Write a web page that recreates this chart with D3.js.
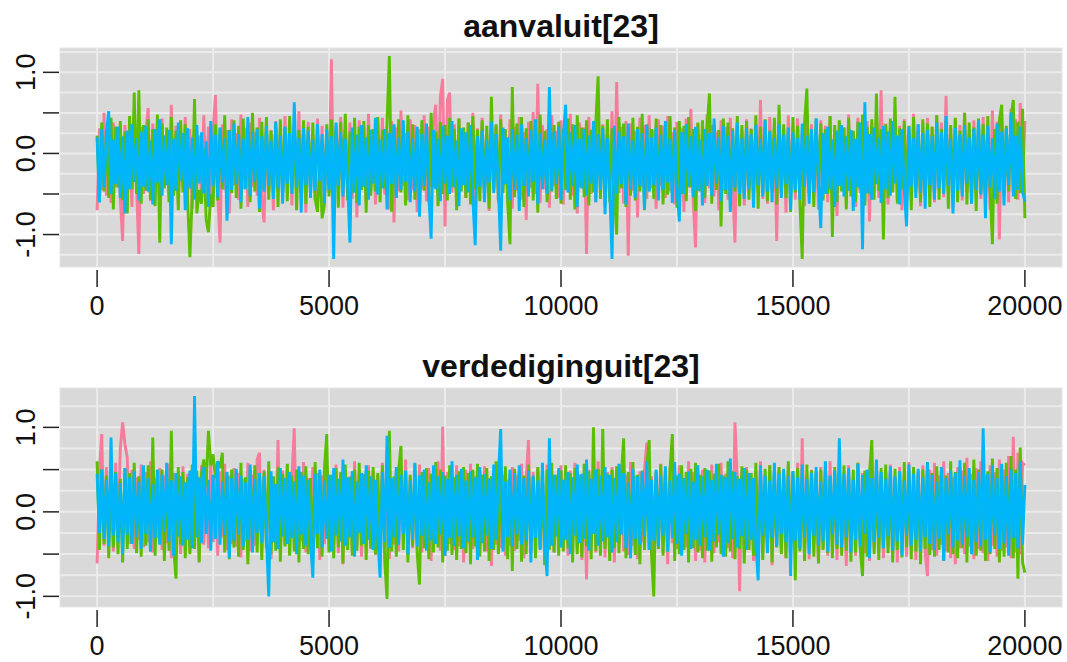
<!DOCTYPE html>
<html>
<head>
<meta charset="utf-8">
<script src="https://cdn.jsdelivr.net/npm/d3@7"></script>
<style>
body { margin: 0; background: #fff; }
text { font-family: "Liberation Sans", Arial, sans-serif; fill: #111; }
</style>
</head>
<body>
<div id="chart"></div>
<script>
var width = 1067, height = 662;

// kept draws run from iteration 0 to 20000 (one every 50 iterations)
var lastIter = 20000
var xTicks = [0, 5000, 10000, 15000, 20000]
var yTicks = [-1, -0.5, 0, 0.5, 1]
var yLabels = ["-1.0", "", "0.0", "", "1.0"]
var titles = ["aanvaluit[23]", "verdediginguit[23]"]
var chainColors = ["#f77b9a", "#5bbe00", "#00b5f8"]

// aanvaluit[23], chain 1 (pink)
var aanvalChain1 = [
  -.7, .31, -.45, .5, -.52, .27, -.61, .38, -.42, .24, -.56, -1.08, .35, -.48, .29, -.66, .41, -.4, -1.24, .33,
  -.5, .26, .56, -.59, .37, -.44, .3, -.71, .43, -.39, .25, -.53, .6, -.47, .34, -.63, .28, -.41, .45, -.55,
  .3, -.68, .39, -.43, .22, -.58, .47, -.4, .33, -.62, .27, .72, -.5, -1.1, .36, -.45, .29, -.74, .42, -.39,
  .25, -.57, .48, -.44, .31, -.66, .38, -.41, .26, -.52, .44, -.6, -.85, .35, -.47, .29, -.7, .4, -.43, .32,
  -.55, .46, -.38, .28, -.64, .37, -.49, .52, -.42, .3, -.73, .39, -.45, .24, -.58, .43, -.4, .34, -.62, .27,
  -.48, 1.16, -.53, .36, -.41, .45, -.67, .3, -.44, .38, -.56, .26, -.79, .41, -.39, .33, -.6, .49, -.46, .29,
  -.63, .37, -.42, .44, -.51, .28, -.69, .4, -.85, .32, -.47, .53, -.4, .25, -.58, .42, -.45, .35, -.72, .3,
  -.44, .47, -.59, .33, -.41, .39, .6, -.52, .7, .92, -.9, .66, .75, -.48, .36, -.62, .43, -.4, .28, -.55,
  .38, -.47, .5, -.65, .31, -.43, .44, -.58, .27, -.71, .4, -.45, .34, -.6, .48, -.39, .29, -.54, .42, -.68,
  .33, -.46, .45, -.57, .26, -.82, .39, -.42, .51, -.5, .86, -.61, .35, -.44, .3, -.67, .47, -.4, .28, -.55,
  .41, -.63, .34, -.45, .49, -.52, .27, -.74, .38, -.41, .32, -1.24, .45, -.5, .29, -.6, .43, -.47, .36, -.66,
  .3, -.44, .52, -.58, .88, -.49, .33, -.62, .4, -1.26, .37, -.46, .28, -.79, .44, -.41, .35, -.56, .47, -.43,
  .29, -.68, .42, -.4, .34, -.55, .46, -.47, .26, -.63, .39, -.5, .31, -.72, .43, -.42, .55, -.58, -1.16, .37,
  -.45, .3, -.61, .48, -.43, .35, -.53, .27, -.7, .41, -.46, .33, -.57, .44, -.4, -1.1, .38, -.52, .29, -.64,
  .42, -.47, .31, -.59, .36, -.44, .66, -.56, .28, -.62, .45, -.41, .34, -1.08, .4, -.5, .3, -.73, .47, -.45,
  .33, -.57, .43, -.4, .27, -.65, .5, -.48, .36, -.54, .29, -.69, .41, -.43, .34, -.6, .46, -.5, .3, -.77,
  .39, -.45, .32, -.58, .48, -.42, .27, -.66, .44, -.49, .35, -.61, .4, -.84, .31, -.47, .52, -.55, .78, -.5,
  .37, -.63, .29, -.44, .46, -.57, .34, -.7, .42, -.41, .3, -.59, .49, -.46, .36, -.65, .28, -.52, .44, -.4,
  .33, -.6, .47, -.45, .38, -.54, .71, -.48, .3, -.67, .43, -.42, .35, -.58, .5, -.47, .27, -.62, .41, -.5,
  .36, -.56, .45, -.43, .32, -.69, .53, -.46, .39, -1.06, .44, -.52, .3, -.6, .55, -.48, .42, -.57, .62, -.45,
  .4
]

// aanvaluit[23], chain 2 (green)
var aanvalChain2 = [
  .22, -.6, .38, -.47, .29, -.55, .44, -.69, .33, -.42, .4, -.58, .27, -.74, .46, -.44, .75, -.5, .78, -.62,
  .35, -.46, .42, -.57, .3, -.65, .48, -1.1, .37, -.43, .32, -.6, .45, -.52, .28, -.7, .41, -.48, .36, -.56,
  -1.28, -.52, .67, -.74, -.45, -.62, .05, -.81, -.97, -.5, -.66, .36, -.58, .3, -.44, .47, -.63, .29, -.49, .41,
  -.55, .34, -.68, .43, -.42, .27, -.6, .5, -.47, .32, -.72, .39, -.44, .45, -.57, .28, -.51, .37, -.66, .42,
  -.48, .31, -.59, .46, -.43, .35, -.7, .29, -.5, .41, -.62, .33, -.46, .38, -.56, -.72, -.1, -.8, -.64, .36,
  -.53, .42, -.45, .3, -.67, .39, -.41, .49, -.58, .27, -.49, .44, -.61, .33, -.45, .4, -.73, .35, -.52, .3,
  -.47, .45, -.6, .29, -.43, .38, 1.2, -.72, .34, -.55, .42, -.48, .31, -.64, .47, -.44, .36, -.57, .28, -.69,
  .41, -.46, .33, -.6, .5, -.42, .27, -.65, .39, -.5, .35, -.58, .44, -.41, .3, -.7, .43, -.47, .32, -.55,
  .38, -.63, .46, -.44, .29, -.59, .41, -.52, .34, -.68, .7, -.45, .36, -.57, .42, -.49, .3, -.61, -1.12, .82,
  -.54, .37, -.44, .45, -.66, .31, -.5, .4, -.58, .33, -.73, .48, -.43, .28, -.6, .44, -.47, .35, -.56, .39,
  -.62, .3, -.45, .43, -.57, .36, -.69, .47, -.42, .32, -.54, .41, -.64, .29, -.48, .38, .95, -.56, .34, -.46,
  .42, -.6, .31, -.5, -1.0, .45, -.43, .37, -.66, .28, -.52, .44, -.58, .33, -.47, .49, -.7, .36, -.45, .3,
  -.56, .43, -.48, .35, -.63, .27, -.51, .46, -.44, .32, -.67, .4, -.5, .34, -.59, .45, -.42, .3, -.71, .38,
  -.47, .41, -.55, .33, .74, -.62, .36, -.45, .29, -.9, .43, -.5, .38, -.6, .31, -.47, .46, -.65, .35, -.52,
  .4, -.57, .3, -.44, .47, -.68, .33, -.5, .42, -.59, .28, -.46, .44, -.63, .6, -.49, .36, -.55, .31, -.72,
  .45, -.48, .34, -.61, -1.3, .38, .8, -.52, .29, -.66, .43, -.45, .37, -.58, .3, -.5, .46, -1.03, .35, -.6,
  .41, -.47, .32, -.69, .44, -.53, .28, -.6, .39, -.45, .48, -.64, .33, -.5, .42, -.57, .74, -.46, .3, -1.06,
  .36, -.55, .43, -.48, .7, -.62, .31, -.44, .4, -.58, .34, -.7, .45, -.47, .29, -.6, .42, -.51, .37, -.66,
  .33, -.49, .47, -.57, .3, -.45, .41, -.68, .35, -.52, .44, -.6, .28, -.47, .5, -.63, .38, -.44, .32, -.71,
  .43, -.5, .36, -.58, .46, -.45, -1.12, .3, -.62, .41, .6, -.53, .34, -.47, .44, .66, -.56, .39, -.49, .55,
  -.8
]

// aanvaluit[23], chain 3 (blue)
var aanvalChain3 = [
  .2, -.6, .3, -.42, .24, .52, -.5, .17, -.38, .33, -.55, .21, -.74, .28, -.44, .36, -.35, .19, -.58, .27,
  -.41, .34, -.47, .16, -.63, .3, -.36, .42, -.52, .22, -.39, .29, -1.12, .18, -.46, .38, -.34, .25, -.7, .31,
  -.43, .2, -.57, .35, -.37, .26, -.49, .15, -.66, .4, -.4, .23, -.54, .32, -.36, .19, -.83, .28, -.45, .37,
  -.38, .24, -.6, .18, -.44, .45, -.52, .27, -.35, .3, -.68, .21, -.47, .34, -.4, .16, -.56, .39, -.43, .22,
  -.62, .33, -.37, .25, -.5, .63, -.42, .19, -.73, .31, -.39, .28, -.55, .17, -.46, .36, -.34, .24, -.61, .3,
  -.45, .21, -1.3, .38, -.4, .26, -.53, .18, -.36, -1.1, .32, -.48, .23, -.64, .35, -.41, .2, -.57, .29, -.37,
  .44, -.51, .17, -.43, .3, -.69, .25, -.38, .36, -.55, .2, -.45, .41, -.35, .27, -.6, .19, -.47, .33, -.78,
  .24, -.4, .37, -.52, -1.05, .29, -.44, .18, -.59, .34, -.37, .22, -.5, .4, -.42, .16, -.65, .31, -.39, .26,
  -.48, .35, -.56, -1.13, .21, -.41, .28, -.6, .17, -.36, .39, -.49, .24, -.43, -1.2, .32, -.38, .2, -.58, .3,
  -.45, .23, -.71, .36, -.4, .19, -.53, .29, -.35, .42, -.62, .25, -.44, .17, -.5, .82, -.46, .27, -.38, .33,
  -.57, .2, .6, -.48, .26, -.4, .35, -.66, .18, -.43, .3, -.52, .22, -.37, .4, -.6, .24, -.45, .31, -.75,
  .19, -.42, -1.3, .34, -.5, .27, -.38, .21, -.63, .37, -.44, .16, -.55, .3, -.4, .25, -.69, .35, -.47, .2,
  -.39, .32, -.58, .23, -.45, .4, -.36, .18, -.61, .29, -.43, -.84, .26, -.5, .36, -.41, .21, -.54, .33, -.46,
  .17, -.64, .3, -.4, .25, -.52, .43, -.37, .2, -.59, .34, -.45, .22, -.72, .28, -.42, .38, -.5, .19, -.56,
  .31, -.44, .24, -.67, .35, -.39, .18, -.53, .41, -.47, .27, -.6, .2, -.43, .36, -.55, .23, -.38, .32, -.7,
  .26, -.45, .19, -.57, .37, -.41, .22, -.62, .3, -.48, .43, -.36, -.92, .25, -.5, .33, -.44, .17, -.66, .28,
  -.4, .35, -.53, .21, -.46, .29, -.71, .18, -.42, .38, -1.18, .63, -.49, .24, -.57, .32, -.38, .2, -.61, .34,
  -.44, .27, -.52, .4, -.37, .22, -.63, .3, -.45, -.9, .33, -.41, .19, -.55, .36, -.48, .25, -.68, .29, -.39,
  .21, -.57, .38, -.43, .26, -.5, .46, -.4, .18, -.74, .32, -.46, .24, -.53, .35, -.37, .2, -.62, .3, -.45,
  .41, -.51, .23, -.8, .34, -.42, .19, -.56, .37, -.47, .27, -.64, .31, -.39, .5, -.53, .22, -.45, .33, -.48,
  -.59
]

// verdediginguit[23], chain 1 (pink)
var verdChain1 = [
  -.61, .48, .92, -.4, .53, -.35, .44, -.47, .58, -.3, .75, 1.06, .8, .64, -.38, .5, -.44, .41, -.33, .56,
  -.42, .47, -.36, .6, -.48, .39, -.31, .52, -.45, .43, -.37, .57, -.55, .46, -.4, .38, -.5, .54, -.33, .45,
  -.47, .5, -.34, .42, -.58, .55, -.39, .44, -.43, .61, -.36, .4, -.52, .48, -.3, .57, -.45, .43, -.38, .52,
  -.41, .46, -.54, .39, -.35, .58, -.47, .44, -.4, .62, .7, -.43, .5, -.37, .45, -.56, .41, -.32, .85, -.46,
  .49, -.39, .55, -.5, .42, .99, -.44, .47, -.35, .59, -.48, .4, -.42, .53, -.3, .46, -.57, .43, -.38, .51,
  -.45, .4, -.36, .56, -.49, .44, -.62, .5, -.33, .42, -.46, .6, -.4, .45, -.53, .38, -.37, .55, -.44, .48,
  -.51, .43, -.35, .58, -.42, .47, -.56, .4, -.39, .53, -.47, .44, -.31, .62, -.5, .41, -.43, .49, -.36, .56,
  -.48, .45, -.4, .52, -.58, .42, -.34, .6, -.46, 1.01, -.52, .47, -.38, .43, -.45, .55, -.41, .39, -.6, .5,
  -.37, .57, -.44, .42, -.5, .48, -.35, .54, -.47, .4, -.64, .46, -.39, .59, -.43, .44, -.52, .38, -.4, .53,
  -.46, .43, -.34, .57, -.55, .41, .85, -.49, .47, -.38, .52, -.44, .4, -.61, .56, -.36, .45, -.48, .42, -.41,
  .55, -.46, .4, -.52, .49, -.37, .58, -.43, .44, -.57, .41, -.8, .5, -.39, .46, -.48, .6, -.35, .43, -.54,
  .47, -.42, .53, -.6, .4, -.38, .56, -.47, .44, -.51, .59, -.4, .43, -.56, .48, -.36, .5, .82, -.45, .42,
  -.53, .46, -.39, .57, -.48, .41, -.62, .52, -.37, .45, -.44, .55, -.5, .4, -.42, .6, -.35, .47, -.58, .43,
  -.46, .5, -.6, .44, -.41, .56, -.49, .42, -.36, .58, -.52, .45, -.43, .48, -.55, 1.06, .4, -.94, .47, -.4,
  .53, -.45, .41, -.58, .49, -.37, .6, -.5, .43, -.42, .55, -.63, .46, -.39, .51, -.47, .42, -.55, .57, -.36,
  .44, -.5, .58, -.43, .87, -.48, .42, -.56, .5, -.38, .47, -.6, .53, -.44, .4, -.52, .6, -.41, .45, -.57,
  .49, -.4, .43, -.64, .55, -.46, .41, -.52, .58, -.37, .46, -.49, .42, -.58, .52, -.43, .6, -.45, .44, -.55,
  .47, -.42, .56, -.5, .4, -.6, .53, -.38, .45, -.53, .59, -.44, .42, -.57, .48, -.4, .55, -.48, -.76, .5,
  -.45, .58, -.52, .43, -.39, .6, -.47, .46, -.55, .41, -.62, .53, -.43, .49, -.5, .64, -.41, .45, -.56, .52,
  -.44, .6, -.49, .43, -.58, .55, -.4, .47, -.53, .62, -.46, .5, -.42, .66, -.55, .89, -.48, .7, -.5, .58,
  .55
]

// verdediginguit[23], chain 2 (green)
var verdChain2 = [
  .6, -.45, .5, -.38, .43, -.55, .57, -.42, .47, -.5, .39, -.6, .52, -.44, .46, -.36, .58, -.49, .42, -.53,
  .48, -.4, .55, -.47, .88, -.52, .44, -.37, .5, -.58, .42, -.46, .96, -.43, -.79, .53, -.39, .47, -.55, .41,
  -.5, .56, -.44, .49, -.6, .45, .62, .3, .96, .55, .68, .4, .6, .52, .7, -.48, .43, -.56, .5, -.42,
  .46, -.53, .58, -.45, .41, -.62, .5, -.4, .55, -.48, .44, -.57, .48, -.43, .6, -.5, .42, -.46, .53, -.59,
  .45, -.41, .57, -.52, .43, -.47, .5, -.6, .47, -.44, .54, -.5, .4, -.56, .59, -.43, .46, -.53, .51, .92,
  -.48, .44, -.55, .52, -.42, .47, -.61, .56, -.45, .41, -.52, .5, -.46, .58, -.4, .45, -.57, .49, -.43, .53,
  -.5, .46, -.44, .55, -.58, -1.03, .96, -.47, .42, -.53, .5, .78, -.45, .48, -.6, .44, -.41, .57, -.5, -.86,
  .47, -.43, .52, -.56, .45, -.48, .59, -.42, .5, -.6, .43, -.46, .55, -.51, .41, -.57, .48, -.44, .53, -.49,
  .46, -.62, .5, -.41, .57, -.53, .44, -.47, .52, -.58, .42, -.45, .6, -.5, .47, -.43, .54, -.56, .45, -.7,
  .51, -.44, .48, -.59, .43, -.5, .56, -.46, .41, -.55, .53, -.42, .47, -.63, .5, -.45, .58, -.48, .44, -.52,
  .49, -.47, .55, -.43, .46, -.6, .52, -.5, .44, -.54, .57, -.41, .48, -.56, 1.0, -.46, .51, -.52, .98, -.44,
  .45, -.58, .5, -.43, .54, -.49, .42, .87, -.55, .47, -.46, .59, -.51, .44, -.62, .49, -.45, .53, .85, -.5,
  -1.0, .48, -.44, .56, -.52, .45, -.47, .5, .92, -.58, .43, -.5, .55, -.45, .47, -.6, .51, -.43, .58, -.48,
  .44, -.55, .52, -.46, .49, -.59, .45, -.42, .57, -.5, .43, -.53, .6, -.47, .48, -.56, .42, -.44, .54, -.61,
  .5, -.45, .46, -.52, .58, -.48, .43, -.57, .51, -.44, .55, -.6, .47, -.42, .53, -.5, .45, -.55, .6, -.46,
  .48, -.81, .52, -.47, .44, -.58, .56, -.43, .49, -.53, .46, -.61, .5, -.45, .57, -.49, .42, -.55, .53, -.44,
  .47, -.52, .55, -.46, .43, -.59, .5, -.48, .58, -.44, -.76, .49, -.53, .45, .85, -.5, .46, -.57, .52, -.43,
  .56, -.49, .44, -.6, .51, -.45, .47, -.54, .59, -.42, .48, -.56, .53, -.47, .45, -.62, .5, -.44, .57, -.51,
  .46, -.53, .54, -.45, .49, -.58, .43, -.48, .6, -.5, .47, -.55, .52, -.43, .58, -.6, .45, -.47, .62, -.52,
  .5, -.46, .55, -.58, .48, -.5, .63, -.44, .52, -.6, .47, -.53, .58, -.49, .66, -.55, .5, -.79, .76, -.6,
  -.72
]

// verdediginguit[23], chain 3 (blue)
var verdChain3 = [
  .45, -.25, .5, -.32, .38, -.41, .88, -.28, .46, -.36, .34, -.5, .52, -.27, .41, -.38, .48, -.3, .36, -.44,
  .55, -.26, .4, -.47, .33, -.31, .5, -.39, .44, -.24, .58, -.35, .37, -.52, .46, -.29, .42, -.4, .35, -.33,
  .49, -.43, 1.37, -.3, .41, -.37, .53, -.26, .38, -.46, .44, -.32, .6, -.39, .36, -.28, .47, -.55, .4, -.34,
  .51, -.27, .43, -.41, .35, -.33, .56, -.48, .39, -.25, .46, -.37, .42, -.3, -1.0, .48, -.36, .33, -.44, .52,
  -.29, .4, -.38, .47, -.31, .36, -.5, .54, -.27, .43, -.4, .38, -.34, -.78, .45, -.26, .5, -.42, .37, -.32,
  .44, -.47, .52, -.28, .39, -.35, .62, -.4, .41, -.3, .48, -.53, .36, -.25, .46, -.38, .55, -.33, .42, -.45,
  .38, -.29, -.78, .47, -.36, .9, -.42, .4, -.3, .53, -.39, .44, -.26, .49, -.5, .37, -.33, .58, -.41, .43,
  -.28, .5, -.46, .35, -.34, .55, -.38, .42, -.27, .47, -.52, .39, -.31, .6, -.4, .44, -.29, .51, -.43, .37,
  -.35, .48, -.3, .41, -.57, .53, -.37, .45, -.28, .39, -.44, .56, -.33, .42, .98, -.47, .36, -.3, .5, -.41,
  .46, -.27, .55, -.39, .4, -.34, .49, -.6, .43, -.31, .37, -.45, .58, -.36, -.76, .87, -.4, .44, -.29, .52,
  -.42, .38, -.33, .47, -.5, .41, -.28, .56, -.37, .45, -.32, .62, -.46, .39, -.26, .5, -.4, .43, -.35, .53,
  -.3, .44, -.48, .4, -.36, .57, -.27, .46, -.43, .35, -.55, .51, -.32, .42, -.39, .48, -.29, .6, -.45, .38,
  -.34, .5, -.41, .43, -.28, .54, -.47, .37, -.31, .59, -.38, .45, -.52, .4, -.26, .48, -.44, .36, -.33, .55,
  -.4, .42, -.3, .5, -.46, .38, -.35, .57, -.27, .44, -.53, .41, -.37, .63, -.32, .47, -.42, .39, -.29, .52,
  -.45, .46, -.33, .4, -.38, -.81, .55, -.28, .43, -.49, .37, -.31, .58, -.41, .45, -.26, .51, -.36, .42, -.76,
  .48, -.34, .41, -.44, .56, -.3, .39, -.5, .46, -.28, .53, -.4, .36, -.35, .6, -.47, .43, -.27, .49, -.39,
  .87, -.42, .45, -.3, .52, -.48, .38, -.33, .57, -.41, .44, -.26, .5, -.55, .4, -.36, .62, -.31, .47, -.43,
  .39, -.29, .54, -.46, .42, -.35, .48, -.52, .37, -.28, .56, -.4, .45, -.33, .51, -.47, .41, -.3, .59, -.38,
  .44, -.45, .36, -.32, .53, -.58, .4, -.27, .49, -.42, .46, -.34, .61, -.39, .43, -.3, .52, -.5, .38, -.36,
  .47, -.41, .99, -.33, .45, -.48, .55, -.28, .4, -.44, .57, -.37, .42, -.52, .5, -.31, .46, -.43, .6, -.39,
  .32
]

var panels = [
    {title: titles[0], chains: [aanvalChain1, aanvalChain2, aanvalChain3], top: 48, bottom: 267, titleY: 37},
    {title: titles[1], chains: [verdChain1, verdChain2, verdChain3], top: 388, bottom: 607, titleY: 377}
]
var left = 60, right = 1062;

var svg = d3.select("#chart").append("svg")
    .attr("width", width)
    .attr("height", height)
    .style("background", "#fff");

//x scale with the R style 4% padding
var xScale = d3.scaleLinear()
    .domain([-0.04 * lastIter, 1.04 * lastIter])
    .range([left, right]);

panels.forEach(function(p){
    var all = d3.merge(p.chains)
    var lo = d3.min(all), hi = d3.max(all), pad = 0.04 * (hi - lo)
    var yScale = d3.scaleLinear().domain([lo - pad, hi + pad]).range([p.bottom, p.top]);

    var g = svg.append("g")

    //panel background
    g.append("rect")
        .attr("x", left).attr("y", p.top)
        .attr("width", right - left).attr("height", p.bottom - p.top)
        .attr("fill", "#d9d9d9")
        .attr("stroke", "#e6e6e6");

    //grid
    var hGrid = d3.range(Math.ceil((lo - pad) * 4) / 4, hi + pad, 0.25)
    g.selectAll(".hgrid").data(hGrid).enter().append("line")
        .attr("x1", left).attr("x2", right)
        .attr("y1", d => yScale(d)).attr("y2", d => yScale(d))
        .attr("stroke", "#ebebeb").attr("stroke-width", 2);

    g.selectAll(".vgrid").data(d3.range(0, lastIter + 1, 2500)).enter().append("line")
        .attr("y1", p.top).attr("y2", p.bottom)
        .attr("x1", d => xScale(d)).attr("x2", d => xScale(d))
        .attr("stroke", "#ebebeb").attr("stroke-width", 2);

    //traces, blue chain last so it sits on top
    p.chains.forEach(function(c, k){
        var line = d3.line()
            .x((d, i) => xScale(i * lastIter / (c.length - 1)))
            .y(d => yScale(d));

        g.append("path")
            .datum(c)
            .attr("d", line)
            .attr("fill", "none")
            .attr("stroke", chainColors[k])
            .attr("stroke-width", 2.9);
    })

    //y axis
    g.selectAll(".ytick").data(yTicks).enter().append("line")
        .attr("x1", 43).attr("x2", 59)
        .attr("y1", d => yScale(d)).attr("y2", d => yScale(d))
        .attr("stroke", "#222").attr("stroke-width", 1.5);

    g.selectAll(".ylab").data(yTicks).enter().append("text")
        .attr("transform", d => "translate(35," + yScale(d) + ") rotate(-90)")
        .attr("text-anchor", "middle")
        .style("font-size", "27px")
        .text((d, i) => yLabels[i]);

    //x axis
    g.selectAll(".xtick").data(xTicks).enter().append("line")
        .attr("x1", d => xScale(d)).attr("x2", d => xScale(d))
        .attr("y1", p.bottom + 3).attr("y2", p.bottom + 20)
        .attr("stroke", "#222").attr("stroke-width", 1.5);

    g.selectAll(".xlab").data(xTicks).enter().append("text")
        .attr("x", d => xScale(d))
        .attr("y", p.bottom + 48)
        .attr("text-anchor", "middle")
        .style("font-size", "27px")
        .text(d => d);

    //title
    g.append("text")
        .attr("x", (left + right) / 2)
        .attr("y", p.titleY)
        .attr("text-anchor", "middle")
        .style("font-size", "32px")
        .style("font-weight", "bold")
        .text(p.title);
})
</script>
</body>
</html>
